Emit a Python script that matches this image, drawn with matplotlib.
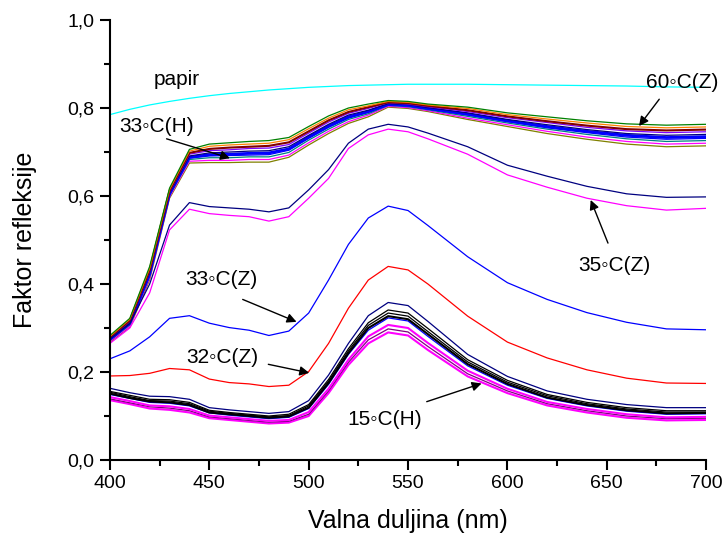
import matplotlib
matplotlib.use("Agg")
import matplotlib.pyplot as plt
from matplotlib.ticker import MultipleLocator, FuncFormatter

plt.rcParams['font.family'] = ['Liberation Sans', 'DejaVu Sans']

# valna duljina (nm)
wl = [400, 410, 420, 430, 440, 450, 460, 470, 480, 490, 500, 510, 520, 530,
      540, 550, 560, 580, 600, 620, 640, 660, 680, 700]

# papir
papir = [0.785, 0.797, 0.807, 0.815, 0.822, 0.828, 0.833, 0.837, 0.841, 0.844,
         0.847, 0.849, 0.851, 0.852, 0.853, 0.854, 0.854, 0.854, 0.853, 0.852,
         0.851, 0.850, 0.848, 0.847]

# gornja skupina (iznad 33C(H) ... 60C(Z))
u_green = [0.283, 0.322, 0.440, 0.618, 0.706, 0.718, 0.721, 0.724, 0.726, 0.733,
           0.758, 0.782, 0.800, 0.809, 0.817, 0.815, 0.809, 0.802, 0.789, 0.780,
           0.771, 0.764, 0.761, 0.763]
u_orange = [0.281, 0.320, 0.436, 0.615, 0.702, 0.713, 0.716, 0.718, 0.720, 0.728,
            0.753, 0.777, 0.796, 0.805, 0.815, 0.813, 0.807, 0.799, 0.785, 0.775,
            0.766, 0.758, 0.755, 0.757]
u_wine = [0.279, 0.317, 0.432, 0.612, 0.698, 0.707, 0.710, 0.712, 0.714, 0.722,
          0.747, 0.772, 0.791, 0.802, 0.813, 0.811, 0.805, 0.795, 0.781, 0.770,
          0.760, 0.752, 0.749, 0.751]
u_purple = [0.278, 0.315, 0.430, 0.610, 0.695, 0.703, 0.705, 0.708, 0.709, 0.717,
            0.743, 0.768, 0.788, 0.799, 0.812, 0.809, 0.803, 0.792, 0.778, 0.767,
            0.756, 0.748, 0.744, 0.746]
u_navy = [0.276, 0.313, 0.426, 0.607, 0.691, 0.698, 0.700, 0.702, 0.703, 0.712,
          0.738, 0.763, 0.784, 0.795, 0.810, 0.808, 0.801, 0.789, 0.774, 0.762,
          0.751, 0.742, 0.738, 0.740]
u_blue = [0.274, 0.311, 0.423, 0.605, 0.688, 0.694, 0.695, 0.697, 0.698, 0.707,
          0.734, 0.759, 0.780, 0.792, 0.808, 0.806, 0.799, 0.786, 0.771, 0.758,
          0.747, 0.738, 0.733, 0.735]
u_royal = [0.273, 0.309, 0.420, 0.603, 0.686, 0.691, 0.692, 0.693, 0.694, 0.704,
           0.731, 0.756, 0.777, 0.790, 0.807, 0.805, 0.798, 0.784, 0.769, 0.755,
           0.744, 0.734, 0.729, 0.731]
u_dcyan = [0.272, 0.307, 0.418, 0.601, 0.683, 0.687, 0.687, 0.689, 0.689, 0.699,
           0.727, 0.752, 0.774, 0.787, 0.806, 0.803, 0.796, 0.781, 0.766, 0.752,
           0.740, 0.730, 0.724, 0.726]
u_magenta = [0.270, 0.304, 0.414, 0.598, 0.679, 0.681, 0.681, 0.683, 0.683, 0.693,
             0.721, 0.747, 0.769, 0.784, 0.804, 0.801, 0.794, 0.777, 0.762, 0.747,
             0.734, 0.724, 0.718, 0.720]
u_olive = [0.268, 0.302, 0.410, 0.595, 0.675, 0.676, 0.676, 0.677, 0.677, 0.688,
           0.716, 0.742, 0.765, 0.780, 0.802, 0.799, 0.792, 0.774, 0.758, 0.742,
           0.729, 0.718, 0.712, 0.714]

# 35C(Z)
z35_navy = [0.275, 0.310, 0.400, 0.534, 0.585, 0.576, 0.573, 0.570, 0.564, 0.573,
            0.614, 0.660, 0.720, 0.752, 0.763, 0.757, 0.743, 0.712, 0.670, 0.645,
            0.622, 0.605, 0.597, 0.598]
z35_magenta = [0.265, 0.300, 0.380, 0.523, 0.570, 0.560, 0.556, 0.553, 0.543, 0.553,
               0.595, 0.640, 0.708, 0.739, 0.752, 0.746, 0.730, 0.695, 0.648, 0.620,
               0.595, 0.578, 0.568, 0.572]

# 33C(Z)
z33 = [0.230, 0.248, 0.280, 0.322, 0.328, 0.311, 0.301, 0.295, 0.283, 0.293,
       0.334, 0.409, 0.490, 0.550, 0.577, 0.567, 0.533, 0.462, 0.403, 0.365,
       0.335, 0.313, 0.298, 0.296]

# 32C(Z)
z32 = [0.191, 0.192, 0.197, 0.208, 0.205, 0.184, 0.176, 0.173, 0.167, 0.170,
       0.201, 0.265, 0.345, 0.409, 0.440, 0.432, 0.400, 0.327, 0.268, 0.232,
       0.205, 0.186, 0.175, 0.174]

# donja skupina (15C(H) ...)
d_navy = [0.163, 0.153, 0.145, 0.144, 0.138, 0.119, 0.114, 0.110, 0.106, 0.110,
          0.135, 0.193, 0.265, 0.328, 0.358, 0.351, 0.315, 0.240, 0.190, 0.157,
          0.138, 0.126, 0.119, 0.119]
d_black1 = [0.156, 0.147, 0.138, 0.137, 0.131, 0.113, 0.108, 0.104, 0.100, 0.104,
            0.126, 0.183, 0.253, 0.312, 0.341, 0.334, 0.299, 0.228, 0.181, 0.149,
            0.131, 0.119, 0.112, 0.112]
d_black2 = [0.154, 0.144, 0.135, 0.134, 0.128, 0.111, 0.106, 0.102, 0.098, 0.101,
            0.123, 0.179, 0.248, 0.306, 0.334, 0.327, 0.292, 0.223, 0.177, 0.146,
            0.128, 0.116, 0.109, 0.109]
d_black3 = [0.151, 0.141, 0.133, 0.131, 0.125, 0.108, 0.104, 0.100, 0.096, 0.099,
            0.119, 0.175, 0.243, 0.300, 0.327, 0.320, 0.286, 0.218, 0.173, 0.142,
            0.125, 0.113, 0.106, 0.107]
d_blue = [0.149, 0.140, 0.131, 0.129, 0.123, 0.107, 0.102, 0.098, 0.094, 0.097,
          0.117, 0.172, 0.240, 0.295, 0.323, 0.316, 0.281, 0.214, 0.170, 0.140,
          0.123, 0.111, 0.104, 0.105]
d_magenta1 = [0.143, 0.134, 0.124, 0.122, 0.116, 0.101, 0.097, 0.093, 0.089, 0.091,
              0.109, 0.162, 0.228, 0.281, 0.307, 0.300, 0.266, 0.203, 0.162, 0.132,
              0.116, 0.104, 0.097, 0.098]
d_purple = [0.139, 0.130, 0.121, 0.118, 0.112, 0.098, 0.094, 0.090, 0.086, 0.088,
            0.104, 0.157, 0.222, 0.273, 0.298, 0.291, 0.258, 0.196, 0.157, 0.128,
            0.112, 0.100, 0.094, 0.095]
d_magenta2 = [0.136, 0.127, 0.117, 0.114, 0.108, 0.095, 0.091, 0.087, 0.083, 0.085,
              0.100, 0.152, 0.216, 0.265, 0.290, 0.283, 0.250, 0.190, 0.152, 0.124,
              0.108, 0.096, 0.090, 0.091]

fig = plt.figure(figsize=(7.28, 5.41), dpi=100)
ax = fig.add_axes([0.151, 0.1497, 0.819, 0.8133])

lw = 0.9
ax.plot(wl, papir, color="#00FFFF", lw=lw)

ax.plot(wl, u_olive, color="#808000", lw=lw)
ax.plot(wl, u_magenta, color="#FF00FF", lw=lw)
ax.plot(wl, u_dcyan, color="#008080", lw=lw)
ax.plot(wl, u_royal, color="#0000FF", lw=lw)
ax.plot(wl, u_blue, color="#0000FF", lw=2.0)
ax.plot(wl, u_navy, color="#000080", lw=lw)
ax.plot(wl, u_purple, color="#8000FF", lw=lw)
ax.plot(wl, u_wine, color="#800000", lw=1.5)
ax.plot(wl, u_orange, color="#FF8000", lw=lw)
ax.plot(wl, u_green, color="#008000", lw=lw)

ax.plot(wl, z35_navy, color="#000080", lw=lw)
ax.plot(wl, z35_magenta, color="#FF00FF", lw=lw)
ax.plot(wl, z33, color="#0000FF", lw=lw)
ax.plot(wl, z32, color="#FF0000", lw=lw)

ax.plot(wl, d_magenta2, color="#FF00FF", lw=1.5)
ax.plot(wl, d_purple, color="#800080", lw=lw)
ax.plot(wl, d_magenta1, color="#FF00FF", lw=1.5)
ax.plot(wl, d_blue, color="#0000FF", lw=lw)
ax.plot(wl, d_black3, color="#000000", lw=1.5)
ax.plot(wl, d_black2, color="#000000", lw=lw)
ax.plot(wl, d_black1, color="#000000", lw=lw)
ax.plot(wl, d_navy, color="#000080", lw=lw)

ax.set_xlim(400, 700)
ax.set_ylim(0, 1.0)
ax.xaxis.set_major_locator(MultipleLocator(50))
ax.xaxis.set_minor_locator(MultipleLocator(25))
ax.yaxis.set_major_locator(MultipleLocator(0.2))
ax.yaxis.set_minor_locator(MultipleLocator(0.1))
ax.yaxis.set_major_formatter(FuncFormatter(lambda v, p: ("%.1f" % v).replace(".", ",")))

for s in ["top", "right"]:
    ax.spines[s].set_visible(False)
for s in ["left", "bottom"]:
    ax.spines[s].set_linewidth(1.5)
ax.tick_params(which="major", direction="out", length=7, width=1.5, labelsize=14, pad=4)
ax.tick_params(which="minor", direction="out", length=4, width=1.5)

ax.set_xlabel("Valna duljina (nm)", fontsize=18, labelpad=12)
ax.set_ylabel("Faktor refleksije", fontsize=18, labelpad=22)

fs = 15
deg = "\u25e6"
ap = dict(arrowstyle="-|>", color="black", lw=1.0, mutation_scale=14, shrinkA=0, shrinkB=0)
ax.text(433.7, 0.864, "papir", fontsize=fs, ha="center", va="center")
ax.text(423.7, 0.757, "33" + deg + "C(H)", fontsize=fs, ha="center", va="center")
ax.annotate("", xy=(460.4, 0.686), xytext=(428.5, 0.730), arrowprops=ap)
ax.text(687.9, 0.857, "60" + deg + "C(Z)", fontsize=fs, ha="center", va="center")
ax.annotate("", xy=(666.2, 0.759), xytext=(676.4, 0.820), arrowprops=ap)
ax.text(653.9, 0.442, "35" + deg + "C(Z)", fontsize=fs, ha="center", va="center")
ax.annotate("", xy=(641.9, 0.591), xytext=(650.6, 0.493), arrowprops=ap)
ax.text(456.1, 0.411, "33" + deg + "C(Z)", fontsize=fs, ha="center", va="center")
ax.annotate("", xy=(493.9, 0.314), xytext=(466.8, 0.365), arrowprops=ap)
ax.text(456.7, 0.2325, "32" + deg + "C(Z)", fontsize=fs, ha="center", va="center")
ax.annotate("", xy=(500.3, 0.198), xytext=(479.7, 0.2175), arrowprops=ap)
ax.text(538.2, 0.091, "15" + deg + "C(H)", fontsize=fs, ha="center", va="center")
ax.annotate("", xy=(587.0, 0.174), xytext=(559.4, 0.1326), arrowprops=ap)

fig.savefig("out.png", dpi=100)
